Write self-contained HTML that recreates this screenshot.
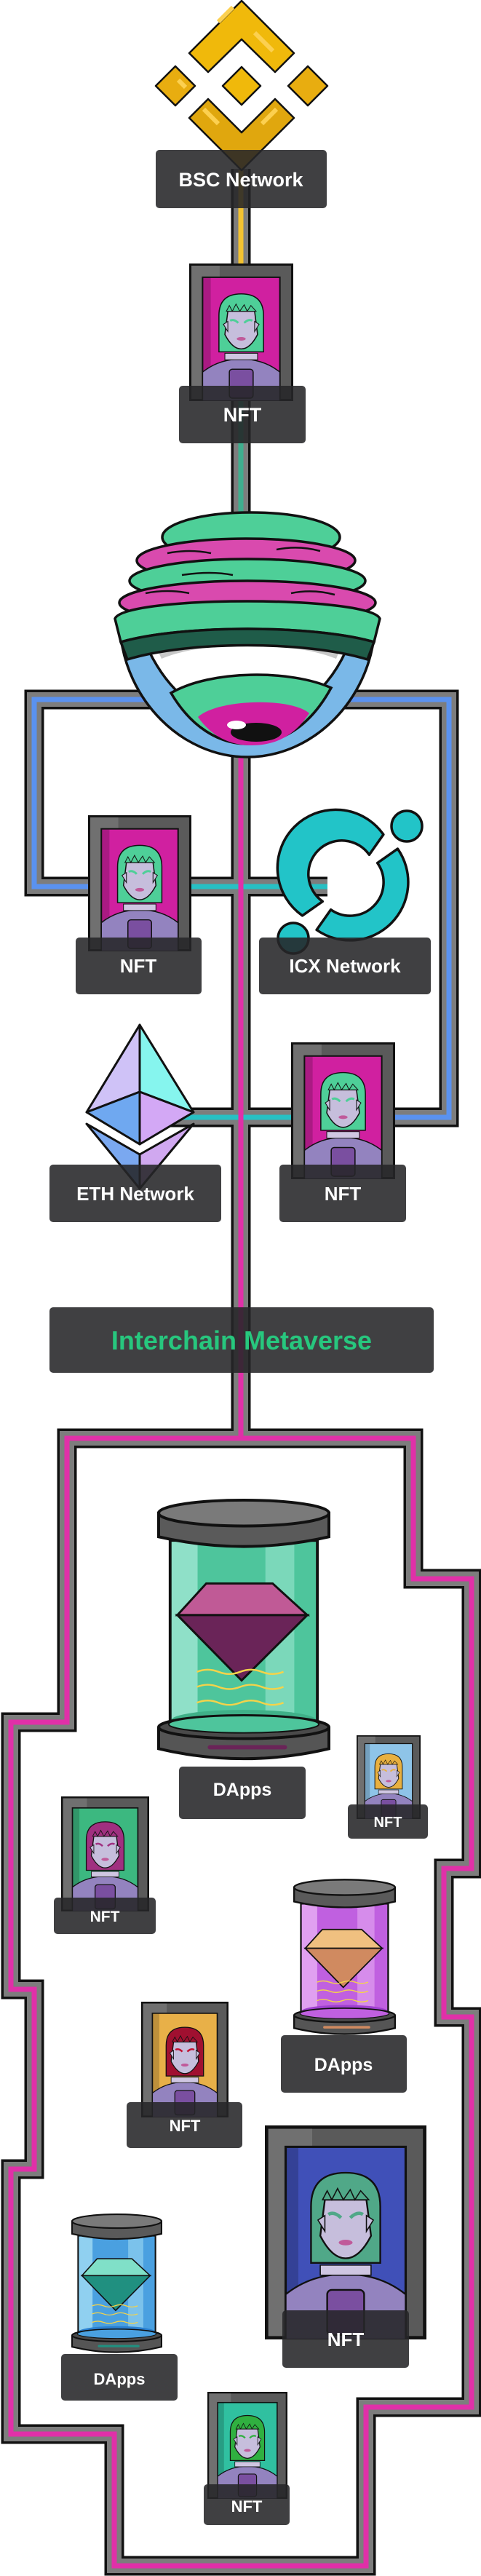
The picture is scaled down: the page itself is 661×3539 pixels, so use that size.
<!DOCTYPE html>
<html><head><meta charset="utf-8"><style>
html,body{margin:0;padding:0;background:#fff}
svg{display:block}
text{font-family:"Liberation Sans",sans-serif;font-weight:bold;fill:#fff;text-anchor:middle}
</style></head><body>
<svg width="661" height="3539" viewBox="0 0 661 3539" xmlns="http://www.w3.org/2000/svg">
<defs>
<symbol id="nft" viewBox="0 0 140 190" preserveAspectRatio="none">
<rect x="1.5" y="1.5" width="137" height="187" fill="#5a5a5a" stroke="#111" stroke-width="3"/>
<rect x="3" y="3" width="38" height="184" fill="#707070"/>
<rect x="18" y="19" width="104" height="170" fill="var(--bg)" stroke="#111" stroke-width="2"/>
<rect x="19" y="20" width="10" height="168" fill="#000" opacity=".18"/>
<path d="M40 122 L40 72 Q40 42 70 42 Q100 42 100 72 L100 122 Z" fill="var(--hair)" stroke="#111" stroke-width="1.5"/>
<path d="M18 190 L18 150 Q40 132 70 132 Q100 132 122 150 L122 190 Z" fill="#9383bf" stroke="#111" stroke-width="1.5"/>
<rect x="48" y="124" width="44" height="9" fill="#cfc6e2" stroke="#111" stroke-width="1"/>
<rect x="54" y="146" width="32" height="40" rx="4" fill="#7a4fa0" stroke="#111" stroke-width="1.5"/>
<path d="M52 66 L88 66 L92 98 Q82 118 70 118 Q58 118 48 98 Z" fill="#c6bedc" stroke="#111" stroke-width="1.5"/>
<path d="M46 84 L52 80 L52 94 Z M94 84 L88 80 L88 94 Z" fill="#c6bedc" stroke="#111"/>
<path d="M55 79 Q60 76 66 82 M85 79 Q80 76 74 82" stroke="var(--eye)" stroke-width="3" fill="none"/>
<ellipse cx="70" cy="104" rx="6" ry="2.5" fill="#c05a9a"/>
<path d="M50 66 L54 58 L58 66 L63 56 L68 66 L74 57 L78 66 L83 58 L90 66 Z" fill="var(--hair)" stroke="#111" stroke-width="1"/>
</symbol>
<symbol id="jar" viewBox="0 0 240 380" preserveAspectRatio="none">
<rect x="18" y="60" width="204" height="262" fill="var(--g1)" stroke="#111" stroke-width="4"/>
<rect x="20" y="62" width="36" height="258" fill="var(--g0)"/>
<rect x="150" y="62" width="40" height="258" fill="var(--g0)" opacity=".7"/>
<polygon points="28,164 68,120 160,120 208,164" fill="var(--gem1)" stroke="#111" stroke-width="3"/>
<polygon points="28,164 208,164 117,255" fill="var(--gem2)" stroke="#111" stroke-width="3"/>
<path d="M55 243 q15 -6 30 0 t30 0 t30 0 t30 0 M55 264 q15 -6 30 0 t30 0 t30 0 t30 0 M55 286 q15 -6 30 0 t30 0 t30 0 t30 0" stroke="#f4d34a" stroke-width="2.5" fill="none"/>
<ellipse cx="120" cy="310" rx="100" ry="14" fill="var(--g2)"/>
<path d="M2 322 L2 350 Q120 378 238 350 L238 322 Z" fill="#555" stroke="#111" stroke-width="4"/>
<ellipse cx="120" cy="320" rx="118" ry="16" fill="#4a4a4a" stroke="#111" stroke-width="4"/>
<ellipse cx="120" cy="316" rx="104" ry="12" fill="var(--g1)" stroke="#111" stroke-width="2"/>
<rect x="70" y="345" width="110" height="6" rx="3" fill="var(--gem2)"/>
<path d="M2 22 L2 55 Q120 82 238 55 L238 22 Z" fill="#5a5a5a" stroke="#111" stroke-width="4"/>
<ellipse cx="120" cy="22" rx="118" ry="18" fill="#7a7a7a" stroke="#111" stroke-width="4"/>
</symbol>
</defs>

<g fill="none" stroke-linejoin="miter">
<g stroke="#111" stroke-width="27">
<path d="M331 232 L331 1976"/>
<path d="M121 1218 L47 1218 L47 961 L617 961 L617 1535 L543 1535"/>
<path d="M200 1218 L450 1218 M200 1535 L450 1535"/>
<path d="M92 1976 L568 1976 L568 2169 L648 2169 L648 2567 L610 2567 L610 2771 L648 2771 L648 3307 L503 3307 L503 3525 L157 3525 L157 3344 L15 3344 L15 2980 L47 2980 L47 2733 L15 2733 L15 2366 L92 2366 Z"/>
</g>
<g stroke="#7d7d7d" stroke-width="20">
<path d="M331 232 L331 1976"/>
<path d="M121 1218 L47 1218 L47 961 L617 961 L617 1535 L543 1535"/>
<path d="M200 1218 L450 1218 M200 1535 L450 1535"/>
<path d="M92 1976 L568 1976 L568 2169 L648 2169 L648 2567 L610 2567 L610 2771 L648 2771 L648 3307 L503 3307 L503 3525 L157 3525 L157 3344 L15 3344 L15 2980 L47 2980 L47 2733 L15 2733 L15 2366 L92 2366 Z"/>
</g>
<g stroke-width="7">
<path d="M331 234 L331 362" stroke="#f3c230"/>
<path d="M331 551 L331 720" stroke="#3fae8e"/>
<path d="M121 1218 L47 1218 L47 961 L617 961 L617 1535 L543 1535" stroke="#5a92f0"/>
<path d="M200 1218 L450 1218 M200 1535 L450 1535" stroke="#27c0c4"/>
<path d="M331 1020 L331 1976" stroke="#e030a8"/>
<path d="M92 1976 L568 1976 L568 2169 L648 2169 L648 2567 L610 2567 L610 2771 L648 2771 L648 3307 L503 3307 L503 3525 L157 3525 L157 3344 L15 3344 L15 2980 L47 2980 L47 2733 L15 2733 L15 2366 L92 2366 Z" stroke="#e030a8"/>
</g>
</g>

<g stroke="#111" stroke-width="2.5" stroke-linejoin="round">
<polygon points="332,1 404,73 378,99 332,54 286,99 260,73" fill="#f0b90b"/>
<polygon points="332,234 404,162 378,136 332,182 286,136 260,162" fill="#e0a70e"/>
<polygon points="332,92 358,118 332,144 306,118" fill="#f0b90b"/>
<polygon points="241,91 268,118 241,145 214,118" fill="#e8ad10"/>
<polygon points="423,91 450,118 423,145 396,118" fill="#e8ad10"/>
</g>
<path d="M300 30 l20 -20 M350 45 l25 25 M245 110 l10 10 M280 150 l20 20 M360 170 l20 -20" stroke="#fcd050" stroke-width="6"/>

<g stroke="#111" stroke-width="3.5">
<path d="M165 865 C172 962 250 1040 340 1040 C430 1040 508 962 515 865 Z" fill="#7ab8e8"/>
<path d="M205 895 C260 858 420 858 475 895 C445 960 390 992 340 992 C290 992 238 962 205 895 Z" fill="#fff"/>
<path d="M215 890 C270 860 410 860 468 890 L462 905 C400 880 280 880 222 905 Z" fill="#c8c8c8" stroke="none"/>
<path d="M235 952 C290 920 400 920 455 945 C425 1000 385 1022 340 1022 C300 1022 262 998 235 952 Z" fill="#4ecf98"/>
<path d="M272 985 C300 960 400 958 425 980 C405 1010 380 1024 345 1024 C312 1024 288 1008 272 985 Z" fill="#d020a0" stroke="none"/>
<ellipse cx="352" cy="1006" rx="35" ry="13" fill="#111" stroke="none"/>
<ellipse cx="325" cy="996" rx="13" ry="6" fill="#fff" stroke="none"/>
<ellipse cx="345" cy="738" rx="122" ry="34" fill="#4ecf98"/>
<ellipse cx="338" cy="770" rx="150" ry="30" fill="#d94aae"/>
<ellipse cx="340" cy="798" rx="162" ry="30" fill="#4ecf98"/>
<ellipse cx="340" cy="828" rx="176" ry="30" fill="#d94aae"/>
<path d="M158 850 C170 818 510 818 522 850 L514 882 C430 858 250 858 166 882 Z" fill="#4ecf98"/>
<path d="M166 882 C250 858 430 858 514 882 L505 906 C420 880 260 880 175 906 Z" fill="#1f5c49"/>
</g>
<path d="M230 760 q30 -6 60 0 M380 755 q30 -6 60 2 M200 815 q30 -6 60 0 M400 815 q30 -6 60 2 M250 790 q40 -6 70 0" stroke="#111" stroke-width="2.5" fill="none"/>

<g stroke="#111" stroke-width="3.5" fill="#22c4c8" stroke-linejoin="round">
<path d="M526.9 1146.5 A80 80 0 1 0 415.5 1257.9 L443.3 1238.4 A46 46 0 1 1 507.4 1174.3 Z"/>
<path d="M546.5 1166.1 A80 80 0 0 1 435.1 1277.5 L454.6 1249.7 A46 46 0 0 0 518.7 1185.6 Z"/>
<circle cx="559" cy="1135" r="21"/>
<circle cx="403" cy="1289" r="21"/>
</g>

<g stroke="#111" stroke-width="3" stroke-linejoin="round">
<polygon points="192,1408 119,1528 192,1500" fill="#cfc2f7"/>
<polygon points="192,1408 266,1528 192,1500" fill="#86f5ee"/>
<polygon points="119,1528 192,1500 192,1572" fill="#6fa8f0"/>
<polygon points="266,1528 192,1500 192,1572" fill="#d3a8f5"/>
<polygon points="119,1544 192,1586 192,1633" fill="#7aa8f0"/>
<polygon points="266,1544 192,1586 192,1633" fill="#d0a8f0"/>
</g>

<use href="#nft" x="260" y="362" width="143" height="189" style="--bg:#d020a0;--hair:#4ecf98;--eye:#4ecf98"/>
<use href="#nft" x="121" y="1120" width="142" height="187" style="--bg:#d020a0;--hair:#4ecf98;--eye:#4ecf98"/>
<use href="#nft" x="400" y="1432" width="143" height="188" style="--bg:#d020a0;--hair:#4ecf98;--eye:#4ecf98"/>
<use href="#nft" x="490" y="2384" width="88" height="115" style="--bg:#8ec4e8;--hair:#e8b040;--eye:#e8b040"/>
<use href="#nft" x="84" y="2468" width="121" height="158" style="--bg:#3cb880;--hair:#a03080;--eye:#a03080"/>
<use href="#nft" x="194" y="2750" width="120" height="159" style="--bg:#e8b048;--hair:#a01030;--eye:#c01030"/>
<use href="#nft" x="364" y="2920" width="222" height="294" style="--bg:#4050b8;--hair:#50a888;--eye:#50a888"/>
<use href="#nft" x="285" y="3286" width="110" height="147" style="--bg:#30c0a0;--hair:#30b040;--eye:#30b040"/>

<use href="#jar" x="216" y="2057" width="238" height="375" style="--g0:#8fe0c8;--g1:#4ec59c;--g2:#3fb088;--gem1:#c05a96;--gem2:#6a2458"/>
<use href="#jar" x="403" y="2580" width="141" height="224" style="--g0:#e0a0f0;--g1:#c060e0;--g2:#a040d0;--gem1:#f0c080;--gem2:#d08a60"/>
<use href="#jar" x="98" y="3040" width="125" height="200" style="--g0:#90d0f0;--g1:#4aa0e0;--g2:#2a80d0;--gem1:#80e0c8;--gem2:#209080"/>

<g fill="rgba(38,38,40,0.88)">
<rect x="214" y="206" width="235" height="80" rx="5"/>
<rect x="246" y="530" width="174" height="79" rx="5"/>
<rect x="104" y="1288" width="173" height="78" rx="5"/>
<rect x="356" y="1288" width="236" height="78" rx="5"/>
<rect x="68" y="1600" width="236" height="79" rx="5"/>
<rect x="384" y="1600" width="174" height="79" rx="5"/>
<rect x="68" y="1796" width="528" height="90" rx="5"/>
<rect x="246" y="2427" width="174" height="72" rx="5"/>
<rect x="478" y="2479" width="110" height="47" rx="5"/>
<rect x="74" y="2607" width="140" height="50" rx="5"/>
<rect x="386" y="2796" width="173" height="79" rx="5"/>
<rect x="174" y="2888" width="159" height="63" rx="5"/>
<rect x="388" y="3174" width="174" height="79" rx="5"/>
<rect x="84" y="3234" width="160" height="64" rx="5"/>
<rect x="280" y="3413" width="118" height="56" rx="5"/>
</g>
<text x="331" y="256" font-size="27">BSC Network</text>
<text x="333" y="579" font-size="27">NFT</text>
<text x="190" y="1336" font-size="26">NFT</text>
<text x="474" y="1336" font-size="26">ICX Network</text>
<text x="186" y="1649" font-size="26">ETH Network</text>
<text x="471" y="1649" font-size="26">NFT</text>
<text x="332" y="1854" font-size="36" style="fill:#27c77e">Interchain Metaverse</text>
<text x="333" y="2467" font-size="25">DApps</text>
<text x="533" y="2510" font-size="20">NFT</text>
<text x="144" y="2640" font-size="21">NFT</text>
<text x="472" y="2845" font-size="25">DApps</text>
<text x="254" y="2928" font-size="22">NFT</text>
<text x="475" y="3223" font-size="26">NFT</text>
<text x="164" y="3276" font-size="22">DApps</text>
<text x="339" y="3451" font-size="22">NFT</text>
</svg>
</body></html>
